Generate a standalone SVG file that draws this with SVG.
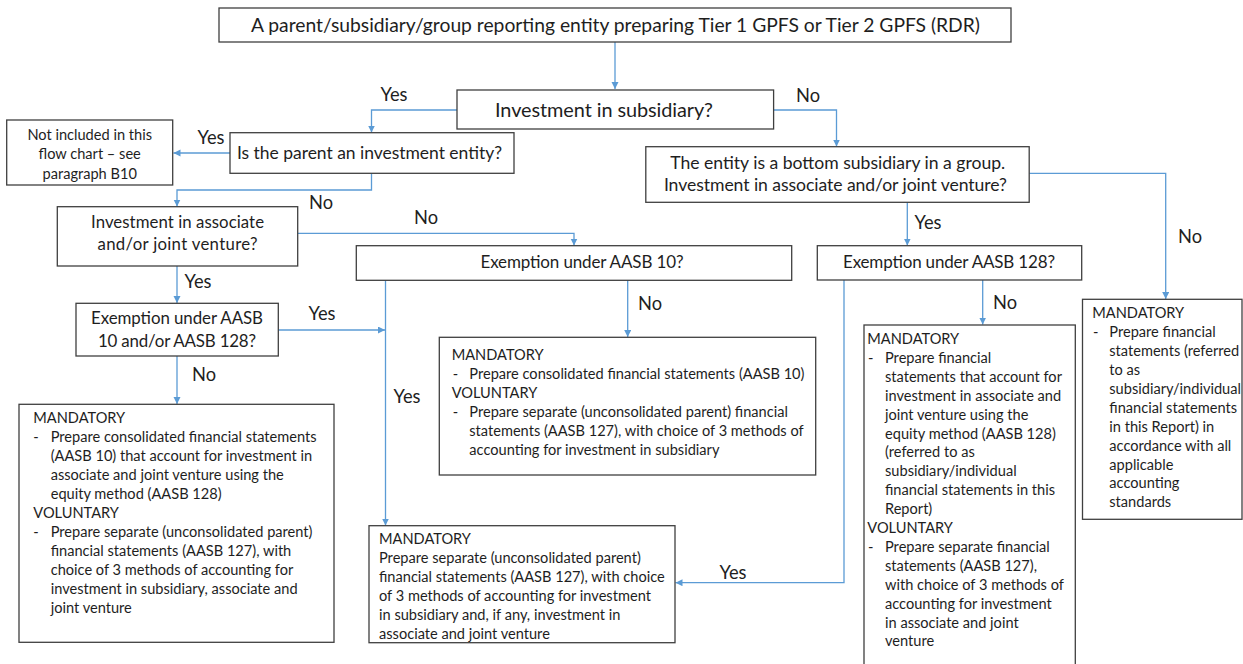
<svg xmlns="http://www.w3.org/2000/svg" width="1243" height="664" viewBox="0 0 1243 664">
<defs>
<style>
.box{fill:#fff;stroke:#3f3f3f;stroke-width:1.3}
.c{fill:none;stroke:#5B9BD5;stroke-width:1.3;marker-end:url(#ah)}
text{font-family:Lato,"Liberation Sans",sans-serif;fill:#1e1e1e}
.t11{font-size:14.6px}
.lbl{font-size:18.3px}
.m{text-anchor:middle}
</style>
<marker id="ah" markerUnits="userSpaceOnUse" markerWidth="8" markerHeight="8" refX="7" refY="3.5" orient="auto">
<path d="M0,0 L7,3.5 L0,7 z" fill="#5B9BD5"/>
</marker>
</defs>
<rect width="1243" height="664" fill="#fff"/>

<g id="connectors">
<path class="c" d="M615,42 V89"/>
<path class="c" d="M457,110 H371.5 V132.5"/>
<path class="c" d="M230,153 H173.5"/>
<path class="c" d="M371.5,173.3 V190 H177 V206.5"/>
<path class="c" d="M773.6,110 H836.5 V146.5"/>
<path class="c" d="M297.7,233.3 H574 V245.5"/>
<path class="c" d="M177,266 V303"/>
<path class="c" d="M278.3,330 H385"/>
<path class="c" d="M177,356 V404"/>
<path class="c" d="M385.5,280.3 V525.5"/>
<path class="c" d="M627.7,280.3 V337"/>
<path class="c" d="M907.3,202.3 V245.5"/>
<path class="c" d="M1029.2,173.3 H1165.7 V299"/>
<path class="c" d="M982.7,280 V324.5"/>
<path class="c" d="M844,280 V582.7 H675.5"/>
</g>

<g id="labels">
<text class="lbl m" x="394" y="101">Yes</text>
<text class="lbl m" x="211" y="144">Yes</text>
<text class="lbl m" x="808" y="102">No</text>
<text class="lbl m" x="321" y="209">No</text>
<text class="lbl m" x="426" y="224">No</text>
<text class="lbl m" x="198" y="288">Yes</text>
<text class="lbl m" x="928" y="229">Yes</text>
<text class="lbl m" x="1190" y="243">No</text>
<text class="lbl m" x="322" y="320">Yes</text>
<text class="lbl m" x="650" y="310">No</text>
<text class="lbl m" x="1005" y="309">No</text>
<text class="lbl m" x="204" y="381">No</text>
<text class="lbl m" x="407" y="403">Yes</text>
<text class="lbl m" x="733" y="579">Yes</text>
</g>

<g id="n-top">
<rect class="box" x="219" y="8" width="792" height="34"/>
<text class="m" style="font-size:19.3px" x="615.5" y="31.5" textLength="729">A parent/subsidiary/group reporting entity preparing Tier 1 GPFS or Tier 2 GPFS (RDR)</text>
</g>

<g id="n-subsidiary">
<rect class="box" x="457" y="90" width="316.6" height="39"/>
<text class="m" style="font-size:19.9px" x="604" y="116.5" textLength="218">Investment in subsidiary?</text>
</g>

<g id="n-invent">
<rect class="box" x="230" y="132.7" width="284" height="40.6"/>
<text class="m" style="font-size:17.5px" x="369.5" y="159" textLength="265">Is the parent an investment entity?</text>
</g>

<g id="n-notincl">
<rect class="box" x="6.7" y="120" width="166" height="65"/>
<text class="t11 m" x="89.7" y="139.5">Not included in this</text>
<text class="t11 m" x="89.7" y="159">flow chart – see</text>
<text class="t11 m" x="89.7" y="178.5">paragraph B10</text>
</g>

<g id="n-assoc">
<rect class="box" x="57.3" y="206.7" width="240.4" height="59.3"/>
<text class="m" style="font-size:16.8px" x="177.5" y="228" textLength="173">Investment in associate</text>
<text class="m" style="font-size:16.8px" x="177.5" y="250.3" textLength="160">and/or joint venture?</text>
</g>

<g id="n-exempt-both">
<rect class="box" x="76" y="303.3" width="202.3" height="52.7"/>
<text class="m" style="font-size:16.9px" x="177" y="324.3" textLength="172">Exemption under AASB</text>
<text class="m" style="font-size:16.9px" x="177" y="347" textLength="158">10 and/or AASB 128?</text>
</g>

<g id="n-exempt10">
<rect class="box" x="356.3" y="245.7" width="435.4" height="34.6"/>
<text class="m" style="font-size:17px" x="582" y="267.5" textLength="203">Exemption under AASB 10?</text>
</g>

<g id="n-bottomsub">
<rect class="box" x="645.8" y="146.7" width="383.4" height="55.6"/>
<text class="m" style="font-size:17.6px" x="837.7" y="168.8" textLength="335">The entity is a bottom subsidiary in a group.</text>
<text class="m" style="font-size:17.6px" x="835.4" y="190.5" textLength="343">Investment in associate and/or joint venture?</text>
</g>

<g id="n-exempt128">
<rect class="box" x="817.3" y="245.7" width="264.4" height="34.3"/>
<text class="m" style="font-size:17px" x="949" y="267.5" textLength="212">Exemption under AASB 128?</text>
</g>

<g id="n-mand-left">
<rect class="box" x="19" y="404.3" width="315" height="238"/>
<text class="t11" x="33.3" y="423.3">MANDATORY</text>
<text class="t11" x="33.3" y="442.3">-</text>
<text class="t11" x="50.7" y="442.3">Prepare consolidated financial statements</text>
<text class="t11" x="50.7" y="461.3">(AASB 10) that account for investment in</text>
<text class="t11" x="50.7" y="480.3">associate and joint venture using the</text>
<text class="t11" x="50.7" y="499.3">equity method (AASB 128)</text>
<text class="t11" x="33.3" y="518.3">VOLUNTARY</text>
<text class="t11" x="33.3" y="537.3">-</text>
<text class="t11" x="50.7" y="537.3">Prepare separate (unconsolidated parent)</text>
<text class="t11" x="50.7" y="556.3">financial statements (AASB 127), with</text>
<text class="t11" x="50.7" y="575.3">choice of 3 methods of accounting for</text>
<text class="t11" x="50.7" y="594.3">investment in subsidiary, associate and</text>
<text class="t11" x="50.7" y="613.3">joint venture</text>
</g>

<g id="n-mand-mid">
<rect class="box" x="439.3" y="337.3" width="376.4" height="137.7"/>
<text class="t11" x="451.7" y="360">MANDATORY</text>
<text class="t11" x="452.7" y="379">-</text>
<text class="t11" x="469.3" y="379">Prepare consolidated financial statements (AASB 10)</text>
<text class="t11" x="451.7" y="398">VOLUNTARY</text>
<text class="t11" x="452.7" y="417">-</text>
<text class="t11" x="469.3" y="417">Prepare separate (unconsolidated parent) financial</text>
<text class="t11" x="469.3" y="436">statements (AASB 127), with choice of 3 methods of</text>
<text class="t11" x="469.3" y="455">accounting for investment in subsidiary</text>
</g>

<g id="n-mand-bottom">
<rect class="box" x="369" y="525.7" width="306" height="117"/>
<text class="t11" x="379" y="544.3">MANDATORY</text>
<text class="t11" x="379" y="563.3">Prepare separate (unconsolidated parent)</text>
<text class="t11" x="379" y="582.3">financial statements (AASB 127), with choice</text>
<text class="t11" x="379" y="601.3">of 3 methods of accounting for investment</text>
<text class="t11" x="379" y="620.3">in subsidiary and, if any, investment in</text>
<text class="t11" x="379" y="639.3">associate and joint venture</text>
</g>

<g id="n-mand-128">
<rect class="box" x="864" y="325" width="211.3" height="350"/>
<text class="t11" x="867.3" y="344">MANDATORY</text>
<text class="t11" x="868" y="362.9">-</text>
<text class="t11" x="885" y="362.9">Prepare financial</text>
<text class="t11" x="885" y="381.8">statements that account for</text>
<text class="t11" x="885" y="400.7">investment in associate and</text>
<text class="t11" x="885" y="419.6">joint venture using the</text>
<text class="t11" x="885" y="438.5">equity method (AASB 128)</text>
<text class="t11" x="885" y="457.4">(referred to as</text>
<text class="t11" x="885" y="476.3">subsidiary/individual</text>
<text class="t11" x="885" y="495.2">financial statements in this</text>
<text class="t11" x="885" y="514.1">Report)</text>
<text class="t11" x="867.3" y="533">VOLUNTARY</text>
<text class="t11" x="868" y="551.9">-</text>
<text class="t11" x="885" y="551.9">Prepare separate financial</text>
<text class="t11" x="885" y="570.8">statements (AASB 127),</text>
<text class="t11" x="885" y="589.7">with choice of 3 methods of</text>
<text class="t11" x="885" y="608.6">accounting for investment</text>
<text class="t11" x="885" y="627.5">in associate and joint</text>
<text class="t11" x="885" y="646.4">venture</text>
</g>

<g id="n-mand-right">
<rect class="box" x="1082.5" y="299.3" width="159.5" height="220"/>
<text class="t11" x="1092.3" y="318.3">MANDATORY</text>
<text class="t11" x="1093" y="337.2">-</text>
<text class="t11" x="1109.3" y="337.2">Prepare financial</text>
<text class="t11" x="1109.3" y="356.1">statements (referred</text>
<text class="t11" x="1109.3" y="375">to as</text>
<text class="t11" x="1109.3" y="393.9">subsidiary/individual</text>
<text class="t11" x="1109.3" y="412.8">financial statements</text>
<text class="t11" x="1109.3" y="431.7">in this Report) in</text>
<text class="t11" x="1109.3" y="450.6">accordance with all</text>
<text class="t11" x="1109.3" y="469.5">applicable</text>
<text class="t11" x="1109.3" y="488.4">accounting</text>
<text class="t11" x="1109.3" y="507.3">standards</text>
</g>
</svg>
